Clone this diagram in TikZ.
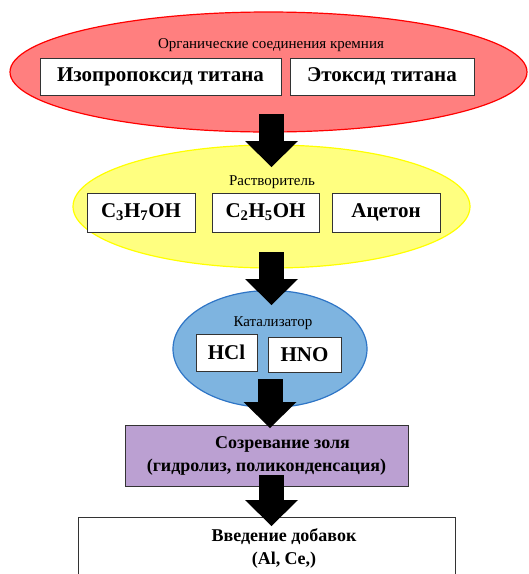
\documentclass[tikz,border=0pt]{standalone}
\usepackage{fontspec}
\setmainfont{Liberation Serif}
\usetikzlibrary{shapes.geometric,arrows.meta}

\definecolor{redfill}{HTML}{FF7F7F}
\definecolor{yellowfill}{HTML}{FFFF80}
\definecolor{yellowline}{HTML}{FFFF00}
\definecolor{bluefill}{HTML}{7EB4E0}
\definecolor{blueline}{HTML}{2E75C6}
\definecolor{purplefill}{HTML}{BBA0D2}

\tikzset{
  oval/.style={ellipse,inner sep=0pt,line width=1.2pt},
  header/.style={font=\fontsize{15}{17}\selectfont},
  itembox/.style={draw=black!80,fill=white,line width=0.8pt,
    font=\bfseries\fontsize{21}{23}\selectfont,inner sep=0pt},
  stagebox/.style={draw=black!80,line width=0.8pt,inner sep=0pt,align=center,
    font=\bfseries\fontsize{18}{23}\selectfont},
  blockarrow/.style={line width=25pt,
    -{Triangle[length=26pt,width=53pt,line width=0pt]}}
}

\begin{document}
\begin{tikzpicture}[x=1pt,y=-1pt]
  \useasboundingbox (0,0) rectangle (529,574);

  % organic compounds
  \node[oval,draw=red,fill=redfill,minimum width=517pt,minimum height=120pt] (org) at (268.5,72) {};
  \node[header] (orgtitle) at (271,45) {Органические соединения кремния};
  \node[itembox,minimum width=241pt,minimum height=37pt] (isoprop) at (160.5,76.5) {Изопропоксид титана};
  \node[itembox,minimum width=184pt,minimum height=37pt] (ethox) at (382,76.5) {Этоксид титана};

  % solvent
  \node[oval,draw=yellowline,fill=yellowfill,minimum width=397pt,minimum height=123pt] (solv) at (271.5,206.5) {};
  \node[header] (solvtitle) at (272,182) {Растворитель};
  \node[itembox,minimum width=108pt,minimum height=39pt] (propanol) at (141,212.5) {C\textsubscript{3}H\textsubscript{7}OH};
  \node[itembox,minimum width=107pt,minimum height=39pt] (ethanol) at (265.5,212.5) {C\textsubscript{2}H\textsubscript{5}OH};
  \node[itembox,minimum width=108pt,minimum height=39pt] (acetone) at (386,212.5) {Ацетон};

  % catalyst
  \node[oval,draw=blueline,fill=bluefill,minimum width=194pt,minimum height=117pt] (cat) at (270,349) {};
  \node[header] (cattitle) at (273,323) {Катализатор};
  \node[itembox,minimum width=61pt,minimum height=37pt] (hcl) at (226.5,352.5) {HCl};
  \node[itembox,minimum width=73pt,minimum height=35pt] (hno) at (304.5,354.5) {HNO};

  % sol ripening
  \node[stagebox,fill=purplefill,minimum width=283pt,minimum height=61pt] (ripen) at (266.5,455.5)
    {\hspace*{32pt}Созревание золя\\(гидролиз, поликонденсация)};

  % additives
  \node[stagebox,fill=white,minimum width=377pt,minimum height=80pt] (addit) at (266.5,557) {};
  \node[font=\bfseries\fontsize{18}{23}\selectfont,align=center] (additext) at (284,548.5)
    {Введение добавок\\(Al, Ce,)};

  % arrows
  \coordinate (a1) at (271.5,114);
  \coordinate (b1) at (271.5,167);
  \coordinate (a2) at (271.5,252);
  \coordinate (b2) at (271.5,305);
  \coordinate (a3) at (270,379);
  \coordinate (b3) at (270,428);
  \coordinate (a4) at (271.5,475);
  \coordinate (b4) at (271.5,526);
  \draw[blockarrow] (a1) -- (b1);
  \draw[blockarrow] (a2) -- (b2);
  \draw[blockarrow] (a3) -- (b3);
  \draw[blockarrow] (a4) -- (b4);
\end{tikzpicture}
\end{document}
